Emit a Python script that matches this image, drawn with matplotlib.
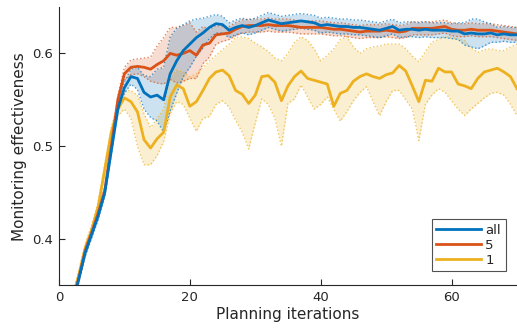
import numpy as np
import matplotlib
matplotlib.use("Agg")
import matplotlib.pyplot as plt

iterations = list(range(1, 71))

mean_all = [0.300, 0.330, 0.356, 0.385, 0.405, 0.425, 0.450, 0.495, 0.540, 0.563,
            0.575, 0.573, 0.558, 0.553, 0.555, 0.550, 0.578, 0.592, 0.603, 0.610,
            0.617, 0.622, 0.628, 0.632, 0.631, 0.625, 0.628, 0.630, 0.628, 0.630,
            0.633, 0.636, 0.634, 0.632, 0.633, 0.634, 0.635, 0.634, 0.633, 0.630,
            0.631, 0.630, 0.629, 0.629, 0.628, 0.628, 0.627, 0.626, 0.625, 0.627,
            0.629, 0.625, 0.626, 0.626, 0.625, 0.626, 0.625, 0.625, 0.625, 0.624,
            0.624, 0.621, 0.622, 0.621, 0.621, 0.622, 0.620, 0.621, 0.620, 0.620]
err_all = [0.004, 0.004, 0.004, 0.004, 0.004, 0.004, 0.004, 0.004, 0.004, 0.006,
           0.008, 0.012, 0.018, 0.022, 0.028, 0.035, 0.040, 0.035, 0.028, 0.025,
           0.020, 0.016, 0.012, 0.010, 0.009, 0.008, 0.008, 0.008, 0.008, 0.008,
           0.008, 0.008, 0.008, 0.008, 0.008, 0.008, 0.008, 0.008, 0.008, 0.008,
           0.008, 0.008, 0.008, 0.008, 0.008, 0.008, 0.008, 0.008, 0.008, 0.008,
           0.008, 0.008, 0.008, 0.008, 0.008, 0.008, 0.008, 0.008, 0.008, 0.008,
           0.009, 0.012, 0.015, 0.016, 0.013, 0.010, 0.008, 0.008, 0.008, 0.008]

mean_5 = [0.300, 0.330, 0.357, 0.387, 0.407, 0.428, 0.452, 0.500, 0.550, 0.578,
          0.585, 0.586, 0.585, 0.583, 0.588, 0.592, 0.600, 0.598, 0.600, 0.603,
          0.598, 0.609, 0.611, 0.620, 0.621, 0.622, 0.626, 0.629, 0.630, 0.630,
          0.630, 0.631, 0.630, 0.630, 0.630, 0.629, 0.628, 0.628, 0.628, 0.628,
          0.627, 0.626, 0.626, 0.625, 0.624, 0.623, 0.624, 0.624, 0.624, 0.625,
          0.624, 0.623, 0.624, 0.627, 0.627, 0.627, 0.627, 0.628, 0.629, 0.626,
          0.625, 0.625, 0.626, 0.625, 0.625, 0.625, 0.624, 0.623, 0.622, 0.621]
err_5 = [0.004, 0.004, 0.004, 0.004, 0.004, 0.004, 0.004, 0.004, 0.004, 0.007,
         0.008, 0.008, 0.010, 0.013, 0.020, 0.025, 0.028, 0.030, 0.030, 0.030,
         0.025, 0.020, 0.015, 0.010, 0.008, 0.007, 0.007, 0.007, 0.007, 0.007,
         0.007, 0.007, 0.007, 0.007, 0.007, 0.007, 0.007, 0.007, 0.007, 0.007,
         0.007, 0.007, 0.007, 0.007, 0.007, 0.007, 0.007, 0.007, 0.007, 0.007,
         0.007, 0.007, 0.007, 0.007, 0.007, 0.007, 0.007, 0.007, 0.007, 0.007,
         0.007, 0.007, 0.007, 0.007, 0.007, 0.007, 0.007, 0.007, 0.007, 0.007]

mean_1 = [0.310, 0.335, 0.360, 0.390, 0.410, 0.435, 0.475, 0.515, 0.540, 0.552,
          0.548, 0.537, 0.507, 0.498, 0.508, 0.515, 0.553, 0.566, 0.562, 0.543,
          0.548, 0.560, 0.573, 0.580, 0.582, 0.576, 0.560, 0.556, 0.546, 0.555,
          0.575, 0.576, 0.569, 0.549, 0.565, 0.575, 0.581, 0.573, 0.571, 0.569,
          0.567, 0.543, 0.557, 0.560, 0.570, 0.575, 0.578, 0.575, 0.573, 0.577,
          0.579, 0.587, 0.581, 0.565, 0.548, 0.571, 0.570, 0.584, 0.580, 0.580,
          0.567, 0.565, 0.562, 0.573, 0.580, 0.582, 0.584, 0.580, 0.575, 0.562]
upper_1 = [0.315, 0.340, 0.365, 0.395, 0.415, 0.440, 0.480, 0.520, 0.547, 0.560,
           0.560, 0.555, 0.535, 0.520, 0.530, 0.540, 0.575, 0.582, 0.580, 0.575,
           0.578, 0.585, 0.592, 0.598, 0.604, 0.610, 0.617, 0.618, 0.616, 0.611,
           0.607, 0.602, 0.595, 0.592, 0.600, 0.612, 0.618, 0.614, 0.605, 0.592,
           0.598, 0.605, 0.615, 0.618, 0.607, 0.600, 0.605, 0.607, 0.608, 0.610,
           0.610, 0.610, 0.605, 0.597, 0.591, 0.602, 0.612, 0.615, 0.618, 0.617,
           0.616, 0.614, 0.606, 0.601, 0.604, 0.605, 0.603, 0.603, 0.607, 0.610]
lower_1 = [0.305, 0.330, 0.355, 0.385, 0.405, 0.430, 0.470, 0.510, 0.533, 0.540,
           0.530, 0.500, 0.480, 0.480, 0.490, 0.505, 0.535, 0.548, 0.545, 0.530,
           0.516, 0.530, 0.532, 0.545, 0.549, 0.542, 0.528, 0.515, 0.497, 0.525,
           0.551, 0.545, 0.530, 0.500, 0.546, 0.551, 0.566, 0.553, 0.540, 0.545,
           0.553, 0.540, 0.527, 0.537, 0.549, 0.558, 0.564, 0.548, 0.533, 0.548,
           0.560, 0.560, 0.550, 0.540, 0.506, 0.545, 0.555, 0.562, 0.558, 0.549,
           0.540, 0.533, 0.540, 0.546, 0.552, 0.557, 0.558, 0.555, 0.545, 0.533]

labels = ["all", "5", "1"]
colors = ["#0072BD", "#D95319", "#EDB120"]
x_ticks = [0, 20, 40, 60]
y_ticks = [0.4, 0.5, 0.6]

x = np.array(iterations)
series = [
    (np.array(mean_all), np.array(mean_all) - np.array(err_all), np.array(mean_all) + np.array(err_all)),
    (np.array(mean_5), np.array(mean_5) - np.array(err_5), np.array(mean_5) + np.array(err_5)),
    (np.array(mean_1), np.array(lower_1), np.array(upper_1)),
]

plt.rcParams['font.family'] = ['DejaVu Sans']
dark = "#262626"
fig = plt.figure(figsize=(5.17, 3.33), dpi=100)
ax = fig.add_axes([0.114, 0.143, 0.886, 0.836])

# bands (draw yellow first, then red, then blue)
for idx in [2, 1, 0]:
    m, lo, hi = series[idx]
    c = colors[idx]
    ax.fill_between(x, lo, hi, color=c, alpha=0.2, linewidth=0)
    ax.plot(x, lo, color=c, lw=1.0, ls=':', alpha=0.7)
    ax.plot(x, hi, color=c, lw=1.0, ls=':', alpha=0.7)

handles = [None] * 3
for idx in [2, 1, 0]:
    m, lo, hi = series[idx]
    h, = ax.plot(x, m, color=colors[idx], lw=2.0, label=labels[idx])
    handles[idx] = h

ax.set_xlim(0, 70)
ax.set_ylim(0.35, 0.65)
ax.set_xticks(x_ticks)
ax.set_yticks(y_ticks)
ax.set_yticklabels([f"{v:.1f}" for v in y_ticks])
for s in ["top", "right"]:
    ax.spines[s].set_visible(False)
for s in ["left", "bottom"]:
    ax.spines[s].set_color(dark)
    ax.spines[s].set_linewidth(0.8)
ax.tick_params(direction='in', length=4, width=0.8, colors=dark, labelsize=9.5, pad=4)
ax.set_xlabel("Planning iterations", fontsize=11, color=dark, labelpad=2)
ax.set_ylabel("Monitoring effectiveness", fontsize=11, color=dark, labelpad=4)

leg = ax.legend(handles=handles, labels=labels, loc='lower right',
                bbox_to_anchor=(0.975, 0.05), fontsize=9.5, frameon=True,
                fancybox=False, handlelength=3.4, handletextpad=0.3,
                labelspacing=0.15, borderpad=0.35, borderaxespad=0.0)
leg.get_frame().set_edgecolor(dark)
leg.get_frame().set_linewidth(0.8)
for t in leg.get_texts():
    t.set_color(dark)

fig.savefig("out.png", dpi=100)
